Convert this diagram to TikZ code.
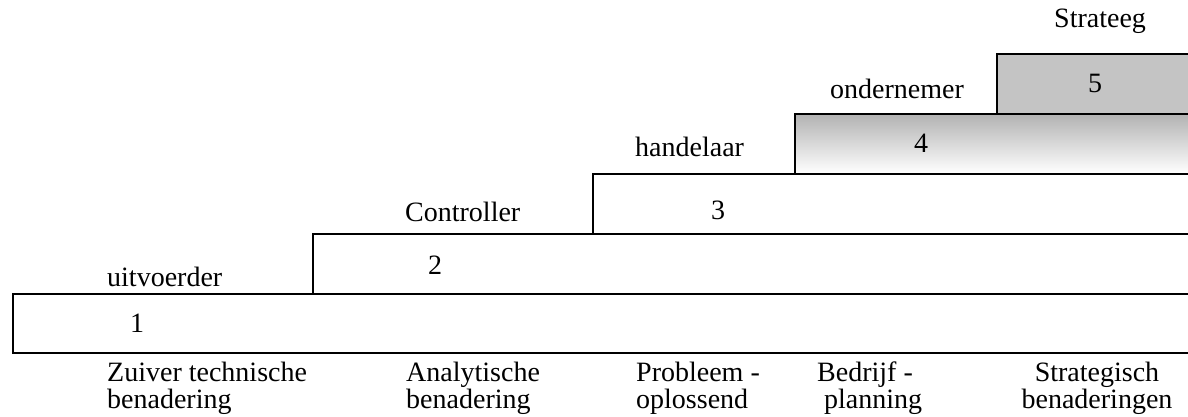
\documentclass[tikz,border=0pt]{standalone}
\usepackage{fontspec}
\setmainfont{Liberation Serif}
\usetikzlibrary{positioning}
\tikzset{
    stage/.style={rectangle, draw, line width=1.6pt, anchor=south west, minimum width=1250pt, inner sep=0pt},
    role/.style={anchor=base west, font=\fontsize{28}{27}\selectfont, inner sep=0pt},
    num/.style={anchor=base, font=\fontsize{28}{27}\selectfont, inner sep=0pt},
    approach/.style={anchor=base west, align=left, font=\fontsize{28}{27}\selectfont, inner sep=0pt},
}
\begin{document}
\begin{tikzpicture}[x=1pt, y=-1pt]
    \useasboundingbox (0,0) rectangle (1188,417);
    \clip (0,0) rectangle (1188,417);
    % the five steps
    \node[stage, minimum height=59pt] (s1) at (12,353.5) {};
    \node[stage, minimum height=60pt] (s2) at (312,294.5) {};
    \node[stage, minimum height=60pt] (s3) at (592,234.5) {};
    \node[stage, minimum height=59.5pt, top color=black!30, bottom color=white] (s4) at (794,174.5) {};
    \node[stage, minimum height=60pt, fill=black!23] (s5) at (996,115) {};

    % numbers
    \node[num] (n1) at (137,332) {1};
    \node[num] (n2) at (435,274) {2};
    \node[num] (n3) at (718,219) {3};
    \node[num] (n4) at (921,153) {4};
    \node[num] (n5) at (1095,93) {5};

    % roles
    \node[role] (r1) at (107,286) {uitvoerder};
    \node[role] (r2) at (405,221) {Controller};
    \node[role] (r3) at (635,157) {handelaar};
    \node[role] (r4) at (830,99) {ondernemer};
    \node[role] (r5) at (1054,28) {Strateeg};

    % approaches (base = last line)
    \node[approach] (a1) at (107,408) {Zuiver technische\\benadering};
    \node[approach] (a2) at (406,408) {Analytische\\benadering};
    \node[approach] (a3) at (636,408) {Probleem -\\oplossend};
    \node[approach] (a4) at (817,408) {Bedrijf -\\\ planning};
    \node[approach, align=center, anchor=base] (a5) at (1097,408) {Strategisch\\benaderingen};
\end{tikzpicture}
\end{document}
